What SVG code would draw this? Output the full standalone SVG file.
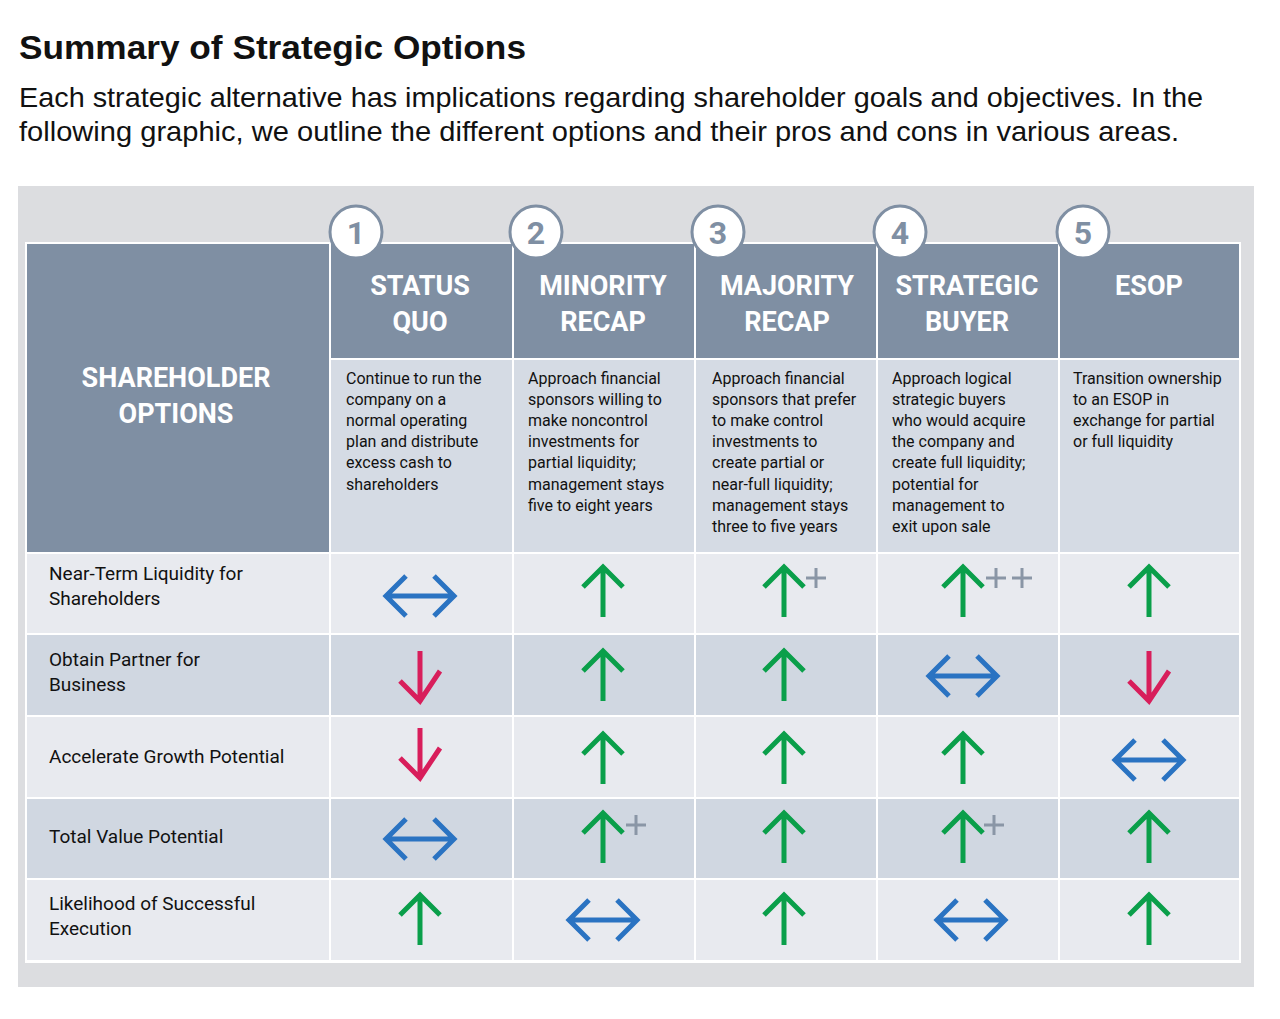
<svg xmlns="http://www.w3.org/2000/svg" width="1280" height="1019" viewBox="0 0 1280 1019">
<style>
.t{font-family:"Liberation Sans",Arial,sans-serif;fill:#111}
.h{font-family:"Roboto","Liberation Sans",sans-serif;font-weight:bold;fill:#fff;font-size:27px;text-anchor:middle}
.d{font-family:"Roboto","Liberation Sans",sans-serif;font-size:16px;fill:#111}
.r{font-family:"Roboto","Liberation Sans",sans-serif;font-size:19px;fill:#111}
.n{font-family:"Roboto","Liberation Sans",sans-serif;font-size:32px;fill:#7f8fa3;text-anchor:middle;font-weight:bold}
.c{fill:#fff;stroke:#7f8fa3;stroke-width:3}
.a{fill:none;stroke-width:5}
.p{stroke:#8a96a6;stroke-width:3}
</style>
<defs>
<path id="up" class="a" stroke="#0a9f4a" d="M0,-25 V25 M-20,-5 L0,-25 L20,-5"/>
<path id="dn" class="a" stroke="#d81e5b" d="M0,-25 V25 M-20,5 L0,25 L20,-5"/>
<path id="lr" class="a" stroke="#2a73c2" d="M-34,0 H34 M-14,-20 L-34,0 L-14,20 M14,-20 L34,0 L14,20"/>
<path id="pl" class="p" d="M-10,0 H10 M0,-10 V10"/>
</defs>
<rect width="1280" height="1019" fill="#fff"/>
<text class="t" x="19" y="59" font-size="33" font-weight="bold" textLength="507" lengthAdjust="spacingAndGlyphs">Summary of Strategic Options</text>
<text class="t" x="19" y="107" font-size="28" fill="#222" textLength="1184" lengthAdjust="spacingAndGlyphs">Each strategic alternative has implications regarding shareholder goals and objectives. In the</text>
<text class="t" x="19" y="141" font-size="28" fill="#222" textLength="1160" lengthAdjust="spacingAndGlyphs">following graphic, we outline the different options and their pros and cons in various areas.</text>
<rect x="18" y="186" width="1236" height="801" fill="#dcdde0"/>
<rect x="25" y="242" width="1216" height="721" fill="#fff"/>
<g id="header">
<rect x="27" y="244" width="302" height="308" fill="#7f8fa3"/>
<text class="h" x="176" y="387">SHAREHOLDER</text><text class="h" x="176" y="423">OPTIONS</text>
<rect x="331" y="244" width="181" height="114" fill="#7f8fa3"/>
<rect x="514" y="244" width="180" height="114" fill="#7f8fa3"/>
<rect x="696" y="244" width="180" height="114" fill="#7f8fa3"/>
<rect x="878" y="244" width="180" height="114" fill="#7f8fa3"/>
<rect x="1060" y="244" width="179" height="114" fill="#7f8fa3"/>
<g fill="#d5dbe4"><rect x="331" y="360" width="181" height="192"/><rect x="514" y="360" width="180" height="192"/><rect x="696" y="360" width="180" height="192"/><rect x="878" y="360" width="180" height="192"/><rect x="1060" y="360" width="179" height="192"/></g>
<text class="h" x="420" y="295">STATUS</text><text class="h" x="420" y="331">QUO</text>
<text class="h" x="603" y="295">MINORITY</text><text class="h" x="603" y="331">RECAP</text>
<text class="h" x="787" y="295">MAJORITY</text><text class="h" x="787" y="331">RECAP</text>
<text class="h" x="967" y="295">STRATEGIC</text><text class="h" x="967" y="331">BUYER</text>
<text class="h" x="1149" y="295">ESOP</text>
<circle class="c" cx="356" cy="232" r="26"/><text class="n" x="356" y="244">1</text>
<circle class="c" cx="536" cy="232" r="26"/><text class="n" x="536" y="244">2</text>
<circle class="c" cx="718" cy="232" r="26"/><text class="n" x="718" y="244">3</text>
<circle class="c" cx="900" cy="232" r="26"/><text class="n" x="900" y="244">4</text>
<circle class="c" cx="1083" cy="232" r="26"/><text class="n" x="1083" y="244">5</text>
<text class="d"><tspan x="346" y="384">Continue to run the</tspan><tspan x="346" y="405">company on a</tspan><tspan x="346" y="426">normal operating</tspan><tspan x="346" y="447">plan and distribute</tspan><tspan x="346" y="468">excess cash to</tspan><tspan x="346" y="490">shareholders</tspan></text>
<text class="d"><tspan x="528" y="384">Approach financial</tspan><tspan x="528" y="405">sponsors willing to</tspan><tspan x="528" y="426">make noncontrol</tspan><tspan x="528" y="447">investments for</tspan><tspan x="528" y="468">partial liquidity;</tspan><tspan x="528" y="490">management stays</tspan><tspan x="528" y="511">five to eight years</tspan></text>
<text class="d"><tspan x="712" y="384">Approach financial</tspan><tspan x="712" y="405">sponsors that prefer</tspan><tspan x="712" y="426">to make control</tspan><tspan x="712" y="447">investments to</tspan><tspan x="712" y="468">create partial or</tspan><tspan x="712" y="490">near-full liquidity;</tspan><tspan x="712" y="511">management stays</tspan><tspan x="712" y="532">three to five years</tspan></text>
<text class="d"><tspan x="892" y="384">Approach logical</tspan><tspan x="892" y="405">strategic buyers</tspan><tspan x="892" y="426">who would acquire</tspan><tspan x="892" y="447">the company and</tspan><tspan x="892" y="468">create full liquidity;</tspan><tspan x="892" y="490">potential for</tspan><tspan x="892" y="511">management to</tspan><tspan x="892" y="532">exit upon sale</tspan></text>
<text class="d"><tspan x="1073" y="384">Transition ownership</tspan><tspan x="1073" y="405">to an ESOP in</tspan><tspan x="1073" y="426">exchange for partial</tspan><tspan x="1073" y="447">or full liquidity</tspan></text>
</g>
<g id="rows">
<g fill="#e8eaef"><rect x="27" y="554" width="1212" height="79"/><rect x="27" y="717" width="1212" height="80"/><rect x="27" y="880" width="1212" height="80"/></g>
<g fill="#d0d7e1"><rect x="27" y="635" width="1212" height="80"/><rect x="27" y="799" width="1212" height="79"/></g>
<g stroke="#fff" stroke-width="2"><line x1="330" y1="554" x2="330" y2="960"/><line x1="513" y1="554" x2="513" y2="960"/><line x1="695" y1="554" x2="695" y2="960"/><line x1="877" y1="554" x2="877" y2="960"/><line x1="1059" y1="554" x2="1059" y2="960"/></g>
<text class="r"><tspan x="49" y="580">Near-Term Liquidity for</tspan><tspan x="49" y="605">Shareholders</tspan></text>
<text class="r"><tspan x="49" y="666">Obtain Partner for</tspan><tspan x="49" y="691">Business</tspan></text>
<text class="r" x="49" y="763">Accelerate Growth Potential</text>
<text class="r" x="49" y="843">Total Value Potential</text>
<text class="r"><tspan x="49" y="910">Likelihood of Successful</tspan><tspan x="49" y="935">Execution</tspan></text>
</g>
<g id="symbols">
<use href="#lr" x="420" y="596"/><use href="#up" x="603" y="592"/><use href="#up" x="784" y="592"/><use href="#pl" x="816" y="578"/><use href="#up" x="963" y="592"/><use href="#pl" x="996" y="578"/><use href="#pl" x="1022" y="578"/><use href="#up" x="1149" y="592"/>
<use href="#dn" x="420" y="676"/><use href="#up" x="603" y="676"/><use href="#up" x="784" y="676"/><use href="#lr" x="963" y="676"/><use href="#dn" x="1149" y="676"/>
<use href="#dn" x="420" y="753"/><use href="#up" x="603" y="759"/><use href="#up" x="784" y="759"/><use href="#up" x="963" y="759"/><use href="#lr" x="1149" y="760"/>
<use href="#lr" x="420" y="839"/><use href="#up" x="603" y="838"/><use href="#pl" x="636" y="825"/><use href="#up" x="784" y="838"/><use href="#up" x="963" y="838"/><use href="#pl" x="994" y="825"/><use href="#up" x="1149" y="838"/>
<use href="#up" x="420" y="920"/><use href="#lr" x="603" y="920"/><use href="#up" x="784" y="920"/><use href="#lr" x="971" y="920"/><use href="#up" x="1149" y="920"/>
</g>
</svg>
